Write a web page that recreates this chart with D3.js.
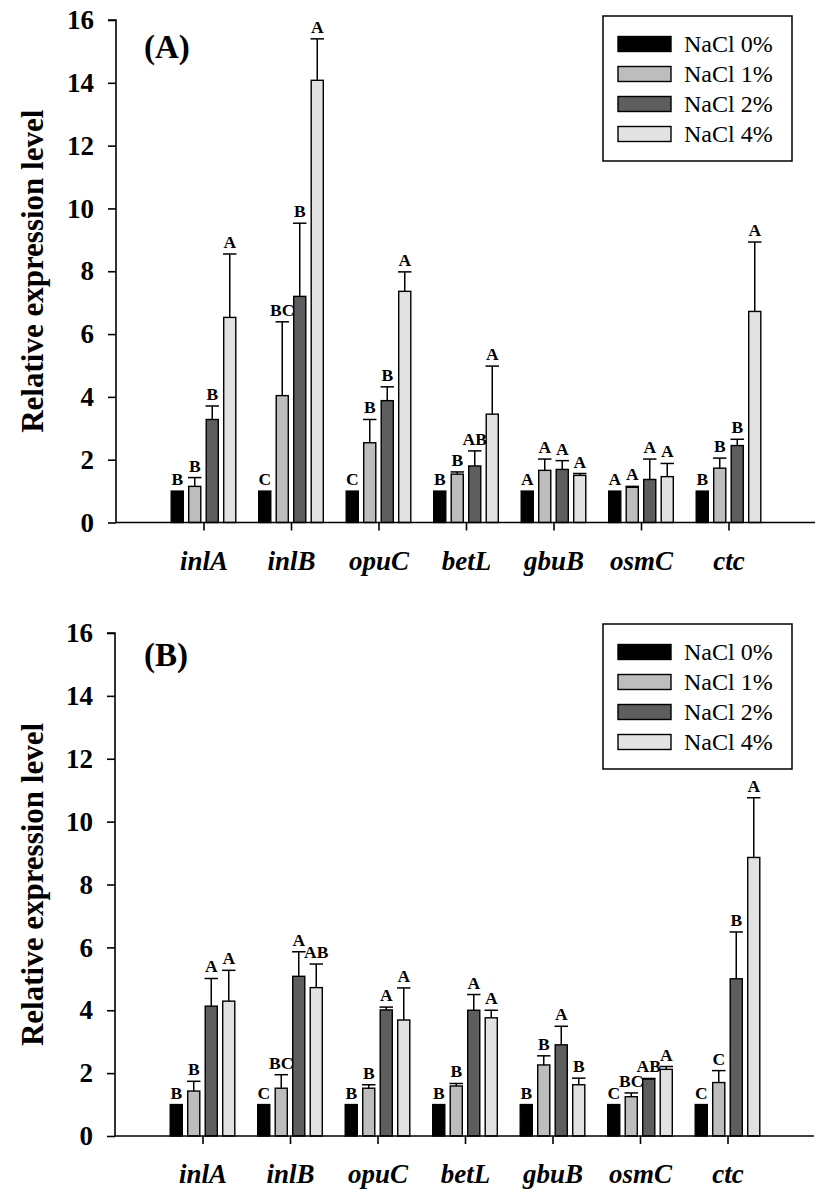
<!DOCTYPE html>
<html><head><meta charset="utf-8">
<script src="https://cdn.jsdelivr.net/npm/d3@7"></script>
<style>body{margin:0;background:#fff}svg{display:block}</style>
</head><body>
<script>
// ---------- data ----------
const categories = ["inlA","inlB","opuC","betL","gbuB","osmC","ctc"];
const seriesNames = ["NaCl 0%","NaCl 1%","NaCl 2%","NaCl 4%"];
const seriesColors = ["#000000","#bdbdbd","#5e5e5e","#e2e2e2"];
const yTickValues = [0,2,4,6,8,10,12,14,16];

// Panel A means
const A_nacl0 = [1,1,1,1,1,1,1];
const A_nacl1 = [1.15,4.04,2.54,1.54,1.66,1.12,1.73];
const A_nacl2 = [3.28,7.20,3.88,1.80,1.69,1.37,2.45];
const A_nacl4 = [6.53,14.08,7.36,3.45,1.50,1.46,6.72];
// Panel A upper error (SD)
const A_sd0 = [0,0,0,0,0,0,0];
const A_sd1 = [0.28,2.35,0.74,0.07,0.36,0.03,0.32];
const A_sd2 = [0.43,2.33,0.44,0.48,0.28,0.65,0.20];
const A_sd4 = [2.02,1.32,0.62,1.53,0.06,0.42,2.21];
// Panel A letters
const A_let0 = ["B","C","C","B","A","A","B"];
const A_let1 = ["B","BC","B","B","A","A","B"];
const A_let2 = ["B","B","B","AB","A","A","B"];
const A_let4 = ["A","A","A","A","A","A","A"];

// Panel B means
const B_nacl0 = [1,1,1,1,1,1,1];
const B_nacl1 = [1.43,1.52,1.52,1.59,2.26,1.25,1.70];
const B_nacl2 = [4.13,5.08,4.01,4.00,2.90,1.81,5.00];
const B_nacl4 = [4.29,4.72,3.69,3.76,1.63,2.12,8.86];
// Panel B upper error (SD)
const B_sd0 = [0,0,0,0,0,0,0];
const B_sd1 = [0.31,0.43,0.11,0.08,0.29,0.12,0.38];
const B_sd2 = [0.88,0.78,0.09,0.50,0.59,0.02,1.49];
const B_sd4 = [0.98,0.75,1.02,0.24,0.21,0.09,1.90];
// Panel B letters
const B_let0 = ["B","C","B","B","B","C","C"];
const B_let1 = ["B","BC","B","B","B","BC","C"];
const B_let2 = ["A","A","A","A","A","AB","B"];
const B_let4 = ["A","AB","A","A","B","A","A"];

// ---------- drawing ----------
const W = 827, H = 1200;
const svg = d3.select("body").append("svg").attr("width", W).attr("height", H);
const serif = "'Liberation Serif','Times New Roman',serif";

function drawPanel(cfg) {
  const g = svg.append("g");
  const x = d3.scaleLinear().domain([0, 8]).range(cfg.xRange);
  const y = d3.scaleLinear().domain([0, 16]).range(cfg.yRange);
  const sub = d3.scaleLinear().domain([0, 3]).range([-0.3, 0.3]); // category units
  const unit = x(1) - x(0);
  const barW = 0.138 * unit;

  const rows = [];
  cfg.means.forEach((arr, s) => arr.forEach((v, i) => {
    rows.push({s, i, v, sd: cfg.sds[s][i], lab: cfg.letters[s][i],
               cx: x(i + 1 + sub(s))});
  }));

  // bars
  g.selectAll("rect.bar").data(rows).join("rect")
    .attr("x", d => d.cx - barW / 2)
    .attr("y", d => y(d.v))
    .attr("width", barW)
    .attr("height", d => y(0) - y(d.v))
    .attr("fill", d => seriesColors[d.s])
    .attr("stroke", "#000").attr("stroke-width", 1.4);

  // error bars
  const eb = rows.filter(d => d.sd > 0);
  g.selectAll("line.err").data(eb).join("line")
    .attr("x1", d => d.cx).attr("x2", d => d.cx)
    .attr("y1", d => y(d.v)).attr("y2", d => y(d.v + d.sd))
    .attr("stroke", "#000").attr("stroke-width", 1.5);
  g.selectAll("line.cap").data(eb).join("line")
    .attr("x1", d => d.cx - barW / 2 - 0.7).attr("x2", d => d.cx + barW / 2 + 0.7)
    .attr("y1", d => y(d.v + d.sd)).attr("y2", d => y(d.v + d.sd))
    .attr("stroke", "#000").attr("stroke-width", 1.5);

  // letters
  g.selectAll("text.sig").data(rows).join("text")
    .attr("x", d => d.cx)
    .attr("y", d => y(d.v + d.sd) - 6)
    .attr("text-anchor", "middle")
    .attr("font-family", serif).attr("font-weight", "bold").attr("font-size", 17.5)
    .text(d => d.lab);

  // y axis
  const yAxis = d3.axisLeft(y).tickValues(yTickValues).tickSize(8).tickPadding(14);
  const ya = g.append("g").attr("transform", `translate(${x(0)},0)`).call(yAxis);
  ya.select(".domain").attr("d", `M-8,${y(16)}H0V${y(0)}`).attr("stroke-width", 1.6);
  ya.selectAll(".tick line").attr("stroke-width", 1.6);
  ya.selectAll(".tick text").attr("font-family", serif).attr("font-weight", "bold")
    .attr("font-size", 27).attr("fill", "#000");

  // x axis
  const xAxis = d3.axisBottom(x).tickValues(d3.range(1, 8)).tickSize(8).tickPadding(22)
    .tickFormat(d => categories[d - 1]);
  const xa = g.append("g").attr("transform", `translate(0,${y(0)})`).call(xAxis);
  xa.select(".domain").attr("d", `M${x(0)},0H${x(8) - 1}`).attr("stroke-width", 1.6);
  xa.selectAll(".tick line").attr("stroke-width", 1.6);
  xa.selectAll(".tick text").attr("font-family", serif).attr("font-weight", "bold")
    .attr("font-style", "italic").attr("font-size", 27).attr("fill", "#000")
    .attr("dy", null).attr("y", 47).attr("dominant-baseline", "alphabetic");

  // y title
  g.append("text")
    .attr("transform", `translate(43,${(y(0) + y(16)) / 2 + 0})rotate(-90)`)
    .attr("text-anchor", "middle")
    .attr("font-family", serif).attr("font-weight", "bold").attr("font-size", 31)
    .text("Relative expression level");

  // panel label
  g.append("text").attr("x", 144).attr("y", cfg.labelY)
    .attr("font-family", serif).attr("font-weight", "bold").attr("font-size", 33)
    .text(cfg.label);

  // legend
  const lg = g.append("g");
  lg.append("rect").attr("x", 603).attr("y", cfg.legTop).attr("width", 189)
    .attr("height", 145).attr("fill", "#fff").attr("stroke", "#000").attr("stroke-width", 1.5);
  seriesNames.forEach((n, s) => {
    const cy = cfg.legTop + 28 + s * 30;
    lg.append("rect").attr("x", 618).attr("y", cy - 7.5).attr("width", 53).attr("height", 15)
      .attr("fill", seriesColors[s]).attr("stroke", "#000").attr("stroke-width", 1.4);
    lg.append("text").attr("x", 684).attr("y", cy).attr("dominant-baseline", "central")
      .attr("font-family", serif).attr("font-size", 24).text(n);
  });
}

drawPanel({
  xRange: [116, 816], yRange: [522.5, 20], label: "(A)", labelY: 58, legTop: 16,
  means: [A_nacl0, A_nacl1, A_nacl2, A_nacl4],
  sds: [A_sd0, A_sd1, A_sd2, A_sd4],
  letters: [A_let0, A_let1, A_let2, A_let4]
});
drawPanel({
  xRange: [115, 815], yRange: [1136, 633], label: "(B)", labelY: 666, legTop: 624,
  means: [B_nacl0, B_nacl1, B_nacl2, B_nacl4],
  sds: [B_sd0, B_sd1, B_sd2, B_sd4],
  letters: [B_let0, B_let1, B_let2, B_let4]
});
</script>
</body></html>
